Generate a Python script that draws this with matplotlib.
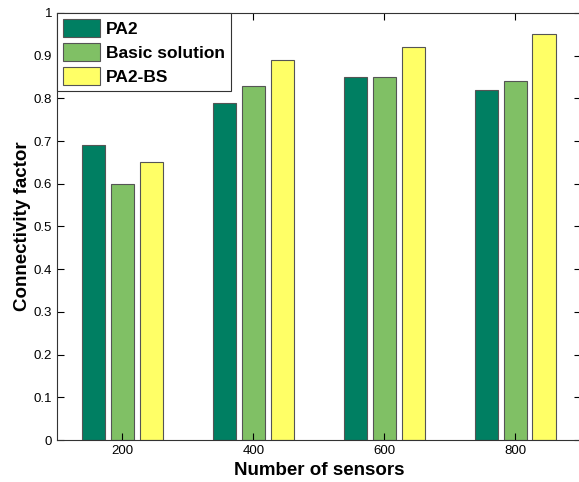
import numpy as np
import matplotlib
matplotlib.use("Agg")
import matplotlib.pyplot as plt

plt.rcParams['font.family'] = ['Liberation Sans', 'DejaVu Sans']

sensors = ['200', '400', '600', '800']
pa2 = [0.69, 0.79, 0.85, 0.82]
basic = [0.60, 0.83, 0.85, 0.84]
pa2_bs = [0.65, 0.89, 0.92, 0.95]
series_names = ['PA2', 'Basic solution', 'PA2-BS']
colors = ['#007f62', '#80c065', '#ffff66']

fig = plt.figure(figsize=(5.79, 4.82), dpi=100)
ax = fig.add_axes([0.0984, 0.0871, 0.905, 0.886])

x = np.arange(1, len(sensors) + 1)
width = 0.18
pitch = 0.22
for i, (vals, name, c) in enumerate(zip([pa2, basic, pa2_bs], series_names, colors)):
    ax.bar(x + (i - 1) * pitch, vals, width, color=c, edgecolor='#555555',
           linewidth=0.8, label=name)

ax.set_xlim(0.5, 4.5)
ax.set_ylim(0, 1)
ax.set_xticks(x)
ax.set_xticklabels(sensors)
ax.set_yticks(np.arange(0, 1.01, 0.1))
ax.set_yticklabels(['0'] + [f'{v:.1f}' for v in np.arange(0.1, 0.95, 0.1)] + ['1'])
ax.tick_params(direction='in', top=True, right=True, labelsize=9.5, length=5, width=0.8)
for s in ax.spines.values():
    s.set_linewidth(0.8)
    s.set_color('#333333')

ax.set_xlabel('Number of sensors', fontsize=13.5, fontweight='bold', labelpad=4)
ax.set_ylabel('Connectivity factor', fontsize=13.5, fontweight='bold', labelpad=2)

leg = ax.legend(loc='upper left', prop={'weight': 'bold', 'size': 12.5},
                fancybox=False, edgecolor='#333333', framealpha=1,
                borderaxespad=0, handlelength=2.1, handleheight=1.2,
                handletextpad=0.35, labelspacing=0.35, borderpad=0.35)
leg.get_frame().set_linewidth(0.8)

plt.savefig('out.png', dpi=100)
